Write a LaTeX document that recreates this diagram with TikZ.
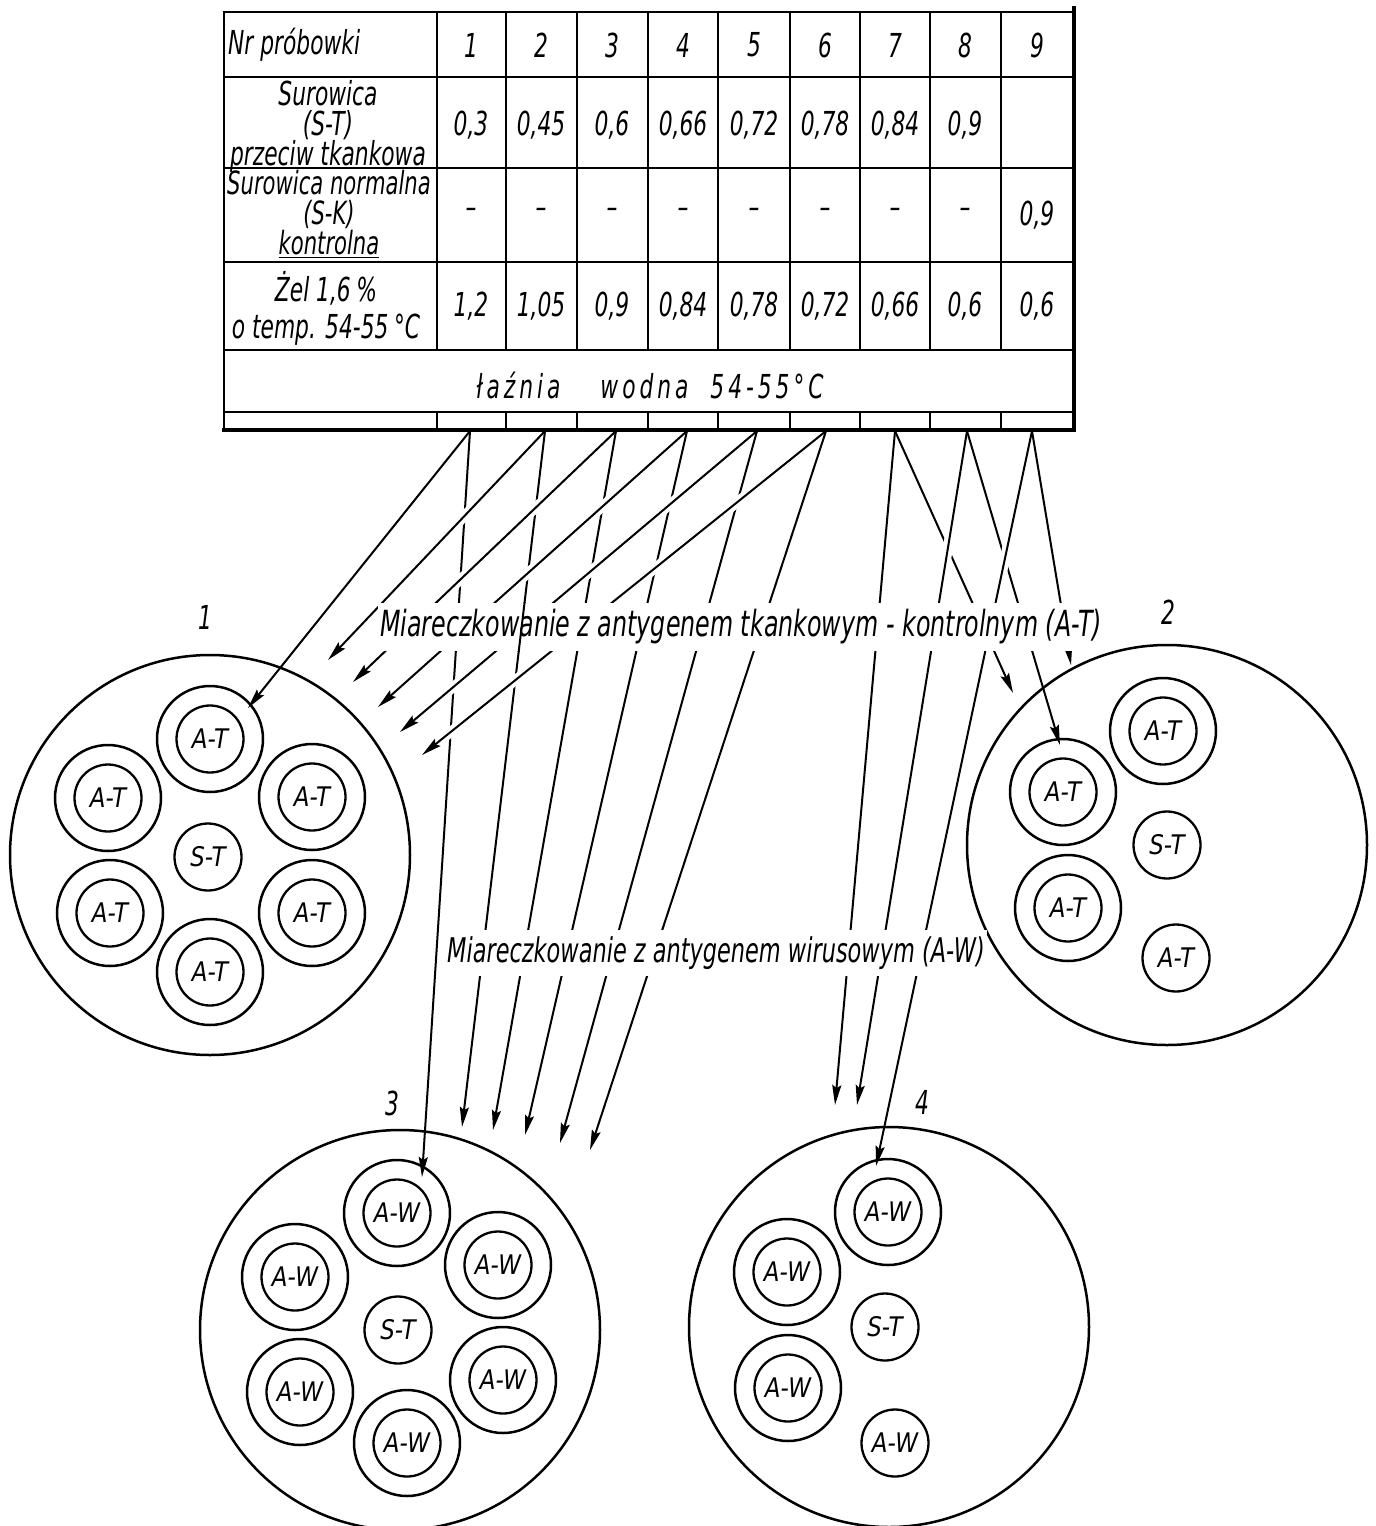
\documentclass[tikz,border=0pt]{standalone}
\usepackage{fontspec}
\setmainfont{DejaVu Sans}[FakeStretch=0.74]
\newfontfamily\tabfam{DejaVu Sans}[FakeStretch=0.66]
\newfontfamily\bathfam{DejaVu Sans}[FakeStretch=0.66,LetterSpace=12]
\newfontfamily\wellfam{DejaVu Sans}[FakeStretch=0.85]
\usetikzlibrary{arrows.meta,calc}
\pgfdeclarelayer{bg}
\pgfsetlayers{bg,main}
\tikzset{
  tl/.style={line width=2.8pt},
  dish/.style={circle,draw,line width=2.5pt,minimum size=400pt,inner sep=0pt},
  ring/.style={circle,draw,line width=2.5pt,minimum size=106pt,inner sep=0pt},
  core/.style={circle,draw,line width=2.3pt,minimum size=67pt,inner sep=0pt,font=\wellfam\itshape\fontsize{27}{27}\selectfont},
  arr/.style={line width=2pt,-{Stealth[length=20pt,width=9pt,inset=3pt]}},
  plainline/.style={line width=2pt},
  halo/.style={draw=white,line width=10pt,shorten <=26pt,shorten >=14pt},
  tabtxt/.style={font=\tabfam\itshape\fontsize{33}{30}\selectfont,inner sep=0pt},
  lab/.style={fill=white,inner xsep=2pt,inner ysep=7pt},
  num/.style={font=\tabfam\itshape\fontsize{33}{30}\selectfont,inner sep=0pt},
}
\newcommand{\dwell}[3]{\node[ring] (#1) at #2 {}; \node[core] (#1i) at #2 {#3};}

\begin{document}
\begin{tikzpicture}[x=1pt,y=-1pt]
\useasboundingbox (0,0) rectangle (1376,1526);

% ---------------- table ----------------
\draw[tl] (224,12) rectangle (1074,430);
\foreach \y in {77,168,262,350,412} \draw[tl] (224,\y) -- (1074,\y);
\foreach \x in {437,506,577,648,718,790,860,930,1001} {
  \draw[tl] (\x,12) -- (\x,350);
  \draw[tl] (\x,412) -- (\x,430);
}
\draw[line width=3.8pt] (1074,6) -- (1074,432);
\draw[line width=3.8pt] (222,430) -- (1076,430);

\node[tabtxt,anchor=west] (hdr) at (228,45) {Nr próbowki};
\foreach \c [count=\i] in {471,541,612,683,754,825,895,965,1037}
  \node[tabtxt] (n\i) at (\c,45) {\i};

\node[tabtxt,align=center] (r2) at (328,124) {Surowica\\(S-T)\\\underline{\smash{przeciw tkankowa}}};
\foreach \c/\v [count=\i] in {471/0{,}3,541/0{,}45,612/0{,}6,683/0{,}66,754/0{,}72,825/0{,}78,895/0{,}84,965/0{,}9}
  \node[tabtxt] (s\i) at (\c,125) {\v};

\node[tabtxt,align=center,font=\tabfam\itshape\fontsize{32}{30}\selectfont] (r3) at (329,214) {Surowica normalna\\(S-K)\\\underline{kontrolna}};
\foreach \c [count=\i] in {471,541,612,683,754,825,895,965}
  \node[tabtxt] (k\i) at (\c,213) {–};
\node[tabtxt] (k9) at (1037,215) {0,9};

\node[tabtxt,align=center,font=\tabfam\itshape\fontsize{33}{37}\selectfont] (r4) at (326,308) {Żel 1,6\,\%\\o temp. 54-55\,°C};
\foreach \c/\v [count=\i] in {471/1{,}2,541/1{,}05,612/0{,}9,683/0{,}84,754/0{,}78,825/0{,}72,895/0{,}66,965/0{,}6,1037/0{,}6}
  \node[tabtxt] (g\i) at (\c,306) {\v};

\node[tabtxt,font=\bathfam\itshape\fontsize{33}{30}\selectfont] (bath) at (650,385) {łaźnia\hspace{40pt}wodna\hspace{22pt}54-55°C};

% outlets of the tubes
\foreach \c [count=\i] in {470,545,616,687,757,826,895,967,1032}
  \coordinate (o\i) at (\c,431);

% ---------------- dishes ----------------
\node[dish] (d1) at (210,855) {};
\node[dish] (d2) at (1167,845) {};
\node[dish] (d3) at (400,1330) {};
\node[dish] (d4) at (889,1327) {};

% dish 1
\dwell{w1t}{(210,739)}{A-T}
\dwell{w1ul}{(108,798)}{A-T}
\dwell{w1ur}{(312,797)}{A-T}
\dwell{w1ll}{(110,913)}{A-T}
\dwell{w1lr}{(312,913)}{A-T}
\dwell{w1b}{(210,972)}{A-T}
\node[core] (w1s) at (208,857) {S-T};
% dish 2
\dwell{w2t}{(1163,731)}{A-T}
\dwell{w2u}{(1063,792)}{A-T}
\dwell{w2l}{(1068,908)}{A-T}
\node[core] (w2s) at (1167,845) {S-T};
\node[core] (w2b) at (1176,958) {A-T};
% dish 3
\dwell{w3t}{(397,1213)}{A-W}
\dwell{w3ul}{(295,1277)}{A-W}
\dwell{w3ur}{(498,1265)}{A-W}
\dwell{w3ll}{(300,1392)}{A-W}
\dwell{w3lr}{(503,1380)}{A-W}
\dwell{w3b}{(407,1443)}{A-W}
\node[core] (w3s) at (398,1330) {S-T};
% dish 4
\dwell{w4t}{(888,1212)}{A-W}
\dwell{w4u}{(787,1272)}{A-W}
\dwell{w4l}{(788,1388)}{A-W}
\node[core] (w4s) at (885,1327) {S-T};
\node[core] (w4b) at (895,1443) {A-W};

% arrow ends
\coordinate (e1) at ($(w1t)+(38,-31)$);
\coordinate (e3) at ($(w3t)+(25,-36)$);
\coordinate (e2) at ($(w2u)+(-3,-47)$);
\coordinate (e4) at ($(w4t)+(-12,-46)$);
\coordinate (a2) at (328,660);
\coordinate (a3) at (353,682);
\coordinate (a4) at (378,707);
\coordinate (a5) at (400,732);
\coordinate (a6) at (422,755);
\coordinate (b2) at (462,1127);
\coordinate (b3) at (493,1130);
\coordinate (b4) at (525,1135);
\coordinate (b5) at (560,1143);
\coordinate (b6) at (590,1150);
\coordinate (r7) at (1013,693);
\coordinate (r9) at (1071,665);
\coordinate (s7) at (835,1105);
\coordinate (s8) at (857,1105);

% ---------------- connectors (behind) ----------------
\begin{pgfonlayer}{bg}
  % titration with viral antigen, left group (interrupted)
  \draw[arr] (o1) -- (e3);
  \foreach \i in {2,...,6} \draw[arr] (o\i) -- (b\i);
  % titration with tissue antigen, left group (continuous)
  \draw[halo] (o1) -- (e1);
  \draw[arr] (o1) -- (e1);
  \foreach \i in {2,...,6} {
    \draw[halo] (o\i) -- (a\i);
    \draw[arr] (o\i) -- (a\i);
  }
  % right group: tissue antigen (interrupted)
  \draw[arr] (o7) -- (r7);
  \draw[arr] (o8) -- (e2);
  \draw[arr] (o9) -- (r9);
  % right group: viral antigen (continuous)
  \draw[halo] (o7) -- (s7);
  \draw[arr] (o7) -- (s7);
  \draw[halo] (o8) -- (s8);
  \draw[arr] (o8) -- (s8);
  \draw[halo] (o9) -- (e4);
  \draw[arr] (o9) -- (e4);
\end{pgfonlayer}

% ---------------- labels ----------------
\node[lab,font=\tabfam\itshape\fontsize{36}{36}\selectfont] (lt) at (741,627) {Miareczkowanie z antygenem tkankowym - kontrolnym (A-T)};
\node[lab,font=\tabfam\itshape\fontsize{34}{34}\selectfont] (lw) at (716,953) {Miareczkowanie z antygenem wirusowym (A-W)};
\begin{scope}
  \clip (lt.south west) rectangle (lt.north east);
  \draw[plainline] (o2) -- (b2);
\end{scope}

\node[num] (l1) at (205,617) {1};
\node[num] (l2) at (1168,612) {2};
\node[num] (l3) at (392,1103) {3};
\node[num] (l4) at (922,1102) {4};
\end{tikzpicture}
\end{document}
